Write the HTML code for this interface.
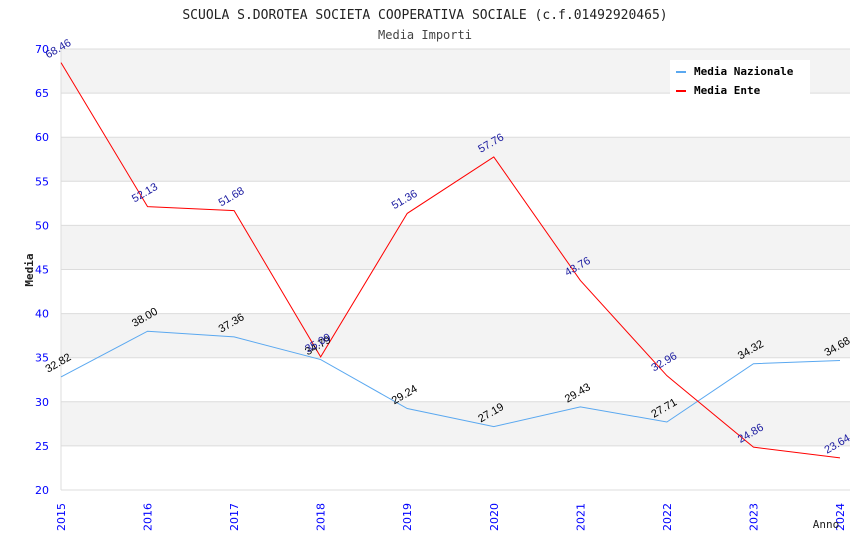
<!DOCTYPE html>
<html><head><meta charset="utf-8"><style>
body{margin:0;background:#fff;}
svg text{font-family:"DejaVu Sans Mono","Liberation Mono",monospace;}
svg text.sans{font-family:"DejaVu Sans","Liberation Sans",sans-serif;}
svg text.lsans{font-family:"Liberation Sans",sans-serif;}
</style></head><body>
<svg id="chart" width="850" height="550" xmlns="http://www.w3.org/2000/svg">
<text x="425" y="19" text-anchor="middle" font-size="13" fill="#222">SCUOLA S.DOROTEA SOCIETA COOPERATIVA SOCIALE (c.f.01492920465)</text>
<text x="425" y="39" text-anchor="middle" font-size="12" fill="#444">Media Importi</text>
<g id="grid"></g>
<g id="axes"></g>
<g id="series"></g>
<g id="labels"></g>
<text x="33" y="270" text-anchor="middle" font-size="11" font-weight="bold" fill="#222" transform="rotate(-90 33 270)">Media</text>
<text x="826" y="528" text-anchor="middle" font-size="11" fill="#222">Anno</text>
<g>
<rect x="670" y="60" width="140" height="36" fill="#fff"/>
<rect x="676" y="71" width="10" height="2" fill="#5aa8f0"/>
<text x="694" y="75" font-size="11" font-weight="bold" fill="#000">Media Nazionale</text>
<rect x="676" y="90" width="10" height="2" fill="#f00"/>
<text x="694" y="94" font-size="11" font-weight="bold" fill="#000">Media Ente</text>
</g>
</svg>
<script>
const years=[2015,2016,2017,2018,2019,2020,2021,2022,2023,2024];
const nazionale=[32.82,38.00,37.36,34.79,29.24,27.19,29.43,27.71,34.32,34.68];
const ente=[68.46,52.13,51.68,35.09,51.36,57.76,43.76,32.96,24.86,23.64];
const yTicks=[20,25,30,35,40,45,50,55,60,65,70];
const NS='http://www.w3.org/2000/svg';
const X0=61,X1=840,Y0=490,Y1=49,L=850;
const xs=i=>X0+(X1-X0)*i/(years.length-1);
const ys=v=>Y0-(v-20)/(70-20)*(Y0-Y1);
function mk(tag,attrs,parent,txt){const e=document.createElementNS(NS,tag);for(const k in attrs)e.setAttribute(k,attrs[k]);if(txt!==undefined)e.textContent=txt;parent.appendChild(e);return e;}
const grid=document.getElementById('grid'),axes=document.getElementById('axes'),series=document.getElementById('series'),labels=document.getElementById('labels');
for(let i=0;i<yTicks.length-1;i++){
  const a=yTicks[i],b=yTicks[i+1];
  if(i%2===1){const r=mk('rect',{x:X0,y:ys(b),width:L-X0,height:ys(a)-ys(b),fill:'#f3f3f3'},grid);
  
  }
}
yTicks.forEach(t=>{
  const l=mk('line',{x1:X0,x2:L,y1:ys(t),y2:ys(t),stroke:'#dcdcdc','stroke-width':1},grid);
  
  
  const tx=mk('text',{x:X0-12,y:ys(t)+4,'text-anchor':'end','font-size':11,fill:'#00f',class:'sans'},axes,String(t));
  
  
});
const ax=mk('line',{x1:X0,x2:X0,y1:Y1,y2:Y0,stroke:'#dcdcdc'},axes);


years.forEach((y,i)=>{
  const x=xs(i);
  const t=mk('text',{x:x+4,y:531,'font-size':11,fill:'#00f',class:'sans',transform:`rotate(-90 ${x+4} 531)`},axes,String(y));
  
  
});
function draw(vals,color,lblColor,name){
  const p=mk('polyline',{points:vals.map((v,i)=>xs(i)+','+ys(v)).join(' '),fill:'none',stroke:color,'stroke-width':1},series);
  
  
  vals.forEach((v,i)=>{
    const x=xs(i)-13,y=ys(v)-4;
    const t=mk('text',{x:x,y:y,'font-size':11,fill:lblColor,class:'lsans',transform:`rotate(-30 ${x} ${y})`},labels,v.toFixed(2));
    
    
  });
}
draw(nazionale,'#5aa8f0','#000','nazionale');
draw(ente,'#f00','#1a1aa0','ente');
</script>
</body></html>
